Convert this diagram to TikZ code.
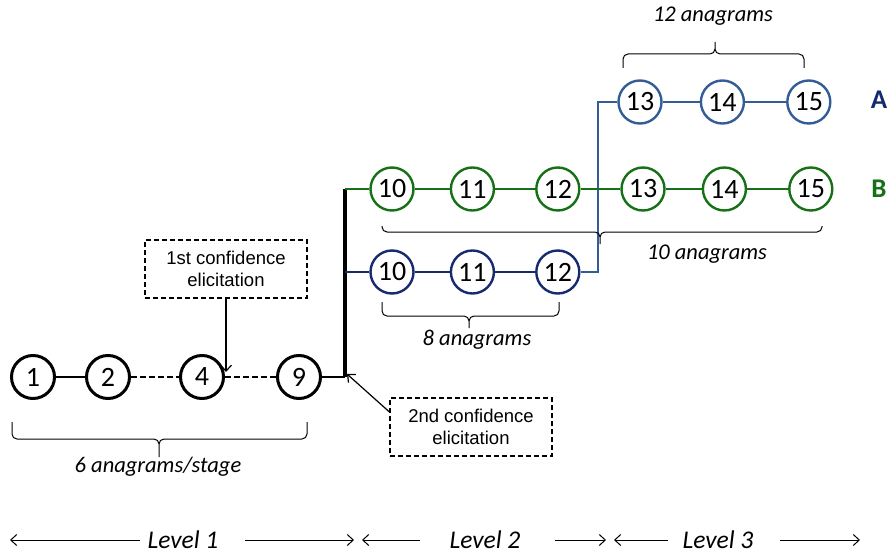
\documentclass[tikz,border=0pt]{standalone}
\usepackage{fontspec}
\setmainfont{Carlito}
\newfontfamily\boxfont{Liberation Sans}
\usetikzlibrary{arrows,arrows.meta}
\usetikzlibrary{positioning}
\definecolor{grn}{RGB}{22,112,22}
\definecolor{navy}{RGB}{22,42,112}
\definecolor{steel}{RGB}{52,92,150}
\tikzset{
    stage/.style={
           circle,
           draw=black, line width=3pt,
           minimum size=43pt,
           inner sep=0pt,
           fill=white,
           font=\fontsize{28}{28}\selectfont,
           },
}
\tikzset{
    grnstage/.style={stage, draw=grn, line width=2.4pt},
    navystage/.style={stage, draw=navy, line width=2.4pt},
    steelstage/.style={stage, draw=steel, line width=2.4pt},
    confbox/.style={
           draw, line width=1.1pt, dash pattern=on 5pt off 3pt,
           minimum width=162pt, minimum height=58pt,
           align=center,
           font=\boxfont\fontsize{18.5}{22}\selectfont,
           },
    anatext/.style={font=\itshape\fontsize{22.5}{22.5}\selectfont},
    leveltext/.style={font=\itshape\fontsize{25.5}{25.5}\selectfont},
    bracestyle/.style={draw, line width=1pt, rounded corners=5pt},
    pointer/.style={line width=1.2pt, -{Straight Barb[length=6pt,width=11pt]}},
    dots/.style={line width=2pt, dash pattern=on 6pt off 3pt},
}
% brace: x left, x right, x tip, y ends, y body, y tip
\newcommand{\anabrace}[6]{
  \draw[bracestyle] (#1,#4) -- (#1,#5) -- (#3,#5) -- (#3,#6)
                    (#2,#4) -- (#2,#5) -- (#3,#5) -- (#3,#6);
}
\begin{document}
\begin{tikzpicture}[x=1pt,y=-1pt]
\useasboundingbox (0,0) rectangle (888,556);

% level 1
\node[stage](s1) at (33,377){1};
\node[stage,right=29pt of s1](s2){2};
\node[stage,right=48pt of s2](s4){4};
\node[stage,right=51pt of s4](s9){9};
\draw[line width=1.2pt] (s1) -- (s2);
\draw[dots] (s2) -- (s4);
\draw[dots] (s4) -- (s9);

% level 2
\coordinate (top) at (345,189);
\coordinate (mid) at (345,272);
\coordinate (bot) at (345,377);
\draw[line width=3.6pt] (top) -- (bot);
\draw[line width=1.2pt] (s9) -- (bot);

\node[grnstage](g10) at (392,189){10};
\node[grnstage,right=35pt of g10](g11){11};
\node[grnstage,right=40pt of g11](g12){12};
\node[navystage](n10) at (392,272){10};
\node[navystage,right=35pt of n10](n11){11};
\node[navystage,right=40pt of n11](n12){12};

% level 3
\node[steelstage](a13) at (640,102){13};
\node[steelstage,right=37pt of a13](a14){14};
\node[steelstage,right=41pt of a14](a15){15};
\node[grnstage](b13) at (643,189){13};
\node[grnstage,right=36pt of b13](b14){14};
\node[grnstage,right=41pt of b14](b15){15};

\node[font=\bfseries\fontsize{27}{27}\selectfont,text=navy](lA) at (879,100){A};
\node[font=\bfseries\fontsize{27}{27}\selectfont,text=grn](lB) at (879,189){B};

% connections
\coordinate (turn) at (598,272);
\draw[steel,line width=2.2pt] (n12) -- (turn) |- (a13);
\draw[grn,line width=2.2pt] (top) -- (g10) -- (g11) -- (g12) -- (b13) -- (b14) -- (b15);
\draw[navy,line width=2.2pt] (mid) -- (n10) -- (n11) -- (n12);
\draw[steel,line width=2.2pt] (a13) -- (a14) -- (a15);

% braces
\anabrace{12}{307}{159}{422}{439}{457}
\anabrace{382}{822}{600}{226}{232}{244}
\anabrace{382}{559}{469}{302}{316}{328}
\anabrace{623}{804}{715}{68}{54}{42}
\node[anatext](t6) at (158,467){6 anagrams/stage};
\node[anatext](t10) at (707,254){10 anagrams};
\node[anatext](t8) at (477,340){8 anagrams};
\node[anatext](t12) at (713,16){12 anagrams};

% confidence elicitation
\node[confbox](conf1) at (226,269){1st confidence\\elicitation};
\node[confbox](conf2) at (471,427){2nd confidence\\elicitation};
\coordinate (hit1) at (226,372);
\coordinate (hit2) at (347,374);
\draw[pointer] (conf1) -- (hit1);
\draw[pointer] ([yshift=15pt]conf2.west) -- (hit2);

% levels
\node[leveltext](lv1) at (183,540){Level 1};
\node[leveltext](lv2) at (485,540){Level 2};
\node[leveltext](lv3) at (718,540){Level 3};
\coordinate (l1a) at (140,540); \coordinate (l1b) at (10,540);
\coordinate (l1c) at (245,540); \coordinate (l1d) at (354,540);
\coordinate (l2a) at (420,540); \coordinate (l2b) at (362,540);
\coordinate (l2c) at (555,540); \coordinate (l2d) at (606,540);
\coordinate (l3a) at (668,540); \coordinate (l3b) at (614,540);
\coordinate (l3c) at (780,540); \coordinate (l3d) at (860,540);
\foreach \a/\b in {l1a/l1b,l1c/l1d,l2a/l2b,l2c/l2d,l3a/l3b,l3c/l3d}
  \draw[pointer,line width=1pt] (\a) -- (\b);
\end{tikzpicture}
\end{document}
